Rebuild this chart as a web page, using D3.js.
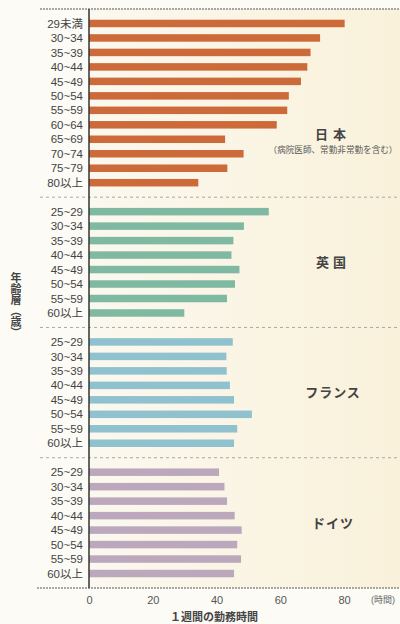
<!DOCTYPE html>
<html>
<head>
<meta charset="utf-8">
<script src="https://cdn.jsdelivr.net/npm/d3@7"></script>
<style>
  html, body { margin: 0; padding: 0; background: #fcfbf6; }
  svg { display: block; font-family: "Liberation Sans", "Noto Sans CJK JP", sans-serif; }
</style>
</head>
<body>
<div id="chart"></div>
<script>
// chart data
const countries = ["日本", "英国", "フランス", "ドイツ"];
const agesJP = ["29未満", "30~34", "35~39", "40~44", "45~49", "50~54", "55~59", "60~64", "65~69", "70~74", "75~79", "80以上"];
const agesEU = ["25~29", "30~34", "35~39", "40~44", "45~49", "50~54", "55~59", "60以上"];
const valuesJP = [80.2, 72.5, 69.5, 68.5, 66.5, 62.7, 62.2, 58.9, 42.7, 48.5, 43.4, 34.3];
const valuesUK = [56.4, 48.6, 45.3, 44.7, 47.2, 45.8, 43.3, 29.9];
const valuesFR = [45.1, 43.1, 43.2, 44.2, 45.5, 51.1, 46.5, 45.5];
const valuesDE = [40.8, 42.5, 43.3, 45.7, 47.9, 46.5, 47.7, 45.5];
const xTicks = [0, 20, 40, 60, 80];

const groups = [
  { name: countries[0], ages: agesJP, values: valuesJP, color: "#cd6a3a" },
  { name: countries[1], ages: agesEU, values: valuesUK, color: "#7fb9a2" },
  { name: countries[2], ages: agesEU, values: valuesFR, color: "#8fc1cf" },
  { name: countries[3], ages: agesEU, values: valuesDE, color: "#bca8bd" }
];

const width = 400, height = 624;
const x0 = 89, plotTop = 9, plotBottom = 588;

const svg = d3.select("#chart").append("svg")
  .attr("width", width)
  .attr("height", height);

const defs = svg.append("defs");
const grad = defs.append("linearGradient").attr("id", "bg").attr("x1", 0).attr("x2", 1);
grad.append("stop").attr("offset", "0%").attr("stop-color", "#fbf8ef");
grad.append("stop").attr("offset", "100%").attr("stop-color", "#f9f1da");

svg.append("rect")
  .attr("x", x0).attr("y", plotTop)
  .attr("width", width - x0).attr("height", plotBottom - plotTop)
  .attr("fill", "url(#bg)");

const x = d3.scaleLinear().domain([0, 80]).range([x0, 344]);

// one slot per row plus one spare slot per group
const totalSlots = d3.sum(groups, g => g.ages.length + 1);
const ySlot = d3.scaleLinear().domain([0, totalSlots]).range([plotTop, plotBottom]);

let offset = 0;
groups.forEach((g, gi) => {
  const n = g.ages.length;
  const y0 = ySlot(offset), y1 = ySlot(offset + n + 1);
  const y = d3.scalePoint().domain(g.ages).range([y0, y1]).padding(1);
  const barH = 7.5;
  const rows = g.ages.map((a, i) => ({ age: a, value: g.values[i] }));

  const grp = svg.append("g");
  grp.selectAll("rect")
    .data(rows)
    .enter().append("rect")
    .attr("x", x(0))
    .attr("y", d => y(d.age) - barH / 2)
    .attr("width", d => x(d.value) - x(0))
    .attr("height", barH)
    .attr("fill", g.color);

  grp.selectAll("text.age")
    .data(rows)
    .enter().append("text")
    .attr("class", "age")
    .attr("x", 83)
    .attr("y", d => y(d.age))
    .attr("dy", "0.36em")
    .attr("text-anchor", "end")
    .attr("font-size", 11.5)
    .attr("fill", "#444")
    .text(d => d.age);

  // country label
  const labelY = gi === 0 ? 134 : (y0 + y1) / 2;
  svg.append("text")
    .attr("x", 333)
    .attr("y", labelY)
    .attr("dy", "0.36em")
    .attr("text-anchor", "middle")
    .attr("font-size", 13)
    .attr("font-weight", "bold")
    .attr("letter-spacing", gi === 0 ? 5 : (gi === 1 ? 4 : 1))
    .attr("fill", "#444")
    .text(g.name);

  if (gi === 0) {
    svg.append("text")
      .attr("x", 333)
      .attr("y", 149.5)
      .attr("dy", "0.36em")
      .attr("text-anchor", "middle")
      .attr("font-size", 8.6)
      .attr("fill", "#555")
      .text("（病院医師、常勤非常勤を含む）");
  }

  // dashed separator under the group
  if (gi < groups.length - 1) {
    svg.append("line")
      .attr("x1", 40).attr("x2", width)
      .attr("y1", y1).attr("y2", y1)
      .attr("stroke", "#a8a8a8")
      .attr("stroke-width", 1)
      .attr("stroke-dasharray", "3,3");
  }
  offset += n + 1;
});

// top and bottom frame lines
svg.append("line")
  .attr("x1", 40).attr("x2", width)
  .attr("y1", plotTop).attr("y2", plotTop)
  .attr("stroke", "#555").attr("stroke-dasharray", "2,1");
svg.append("line")
  .attr("x1", 37).attr("x2", width)
  .attr("y1", plotBottom).attr("y2", plotBottom)
  .attr("stroke", "#555").attr("stroke-dasharray", "2,1");

// vertical axis line
svg.append("line")
  .attr("x1", x0).attr("x2", x0)
  .attr("y1", plotTop).attr("y2", plotBottom)
  .attr("stroke", "#333").attr("stroke-width", 1.5);

// x axis
const xAxis = svg.append("g")
  .attr("transform", `translate(0,${plotBottom + 8})`)
  .call(d3.axisBottom(x).tickValues(xTicks).tickSize(0).tickPadding(0));
xAxis.select(".domain").remove();
xAxis.selectAll("text")
  .attr("font-size", 11)
  .attr("font-family", "Liberation Sans, sans-serif")
  .attr("fill", "#555");

svg.append("text")
  .attr("x", 383).attr("y", 600)
  .attr("dy", "0.36em")
  .attr("text-anchor", "middle")
  .attr("font-size", 9)
  .attr("fill", "#666")
  .text("(時間)");

svg.append("text")
  .attr("x", 214).attr("y", 617)
  .attr("dy", "0.36em")
  .attr("text-anchor", "middle")
  .attr("font-size", 11)
  .attr("font-weight", "bold")
  .attr("fill", "#444")
  .text("１週間の勤務時間");

// y axis title, vertical
svg.append("text")
  .attr("x", 16).attr("y", 272)
  .attr("font-size", 11)
  .attr("font-weight", "bold")
  .attr("fill", "#444")
  .style("writing-mode", "vertical-rl")
  .style("font-family", "Noto Sans CJK JP")
  .text("年齢層（歳）");
</script>
</body>
</html>
